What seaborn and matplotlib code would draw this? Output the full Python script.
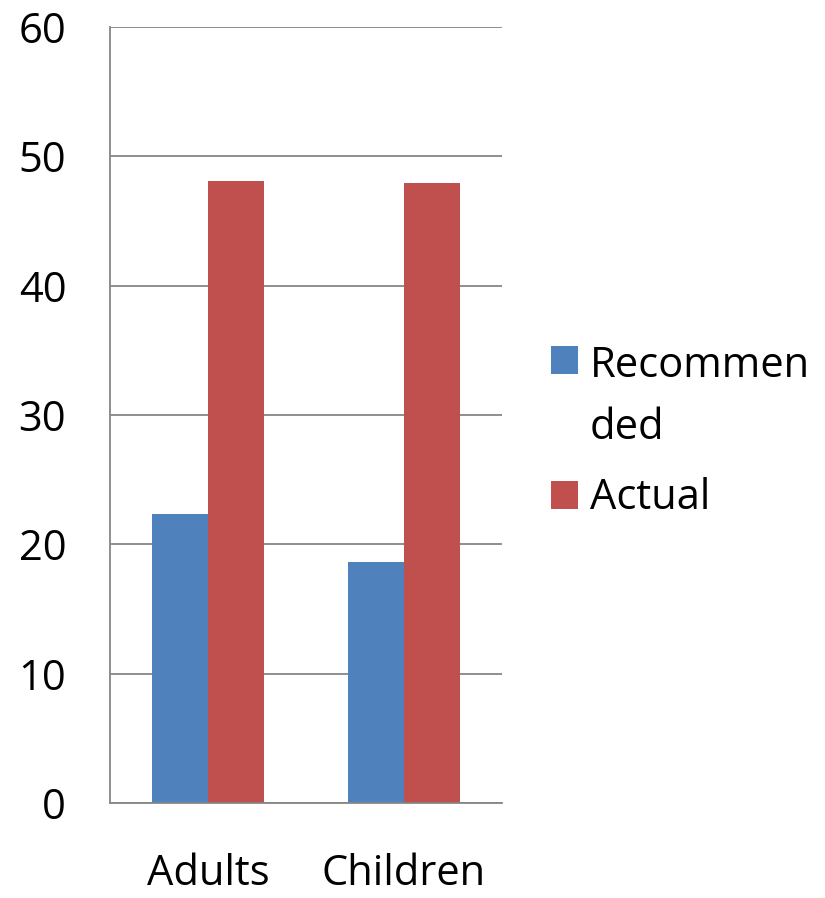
import matplotlib
matplotlib.use("Agg")
import matplotlib.pyplot as plt
import pandas as pd
import seaborn as sns

# valores
groups = ["Adults", "Children"]
series = ["Recommen\nded", "Actual"]
recommended = [22.35, 18.63]
actual = [48.09, 47.92]
colors = ["#4F81BD", "#C0504D"]

df = pd.DataFrame({
    "Group": groups * 2,
    "Series": [series[0]] * 2 + [series[1]] * 2,
    "Value": recommended + actual,
})

sns.set_style("white")
plt.rcParams["font.family"] = ["Open Sans", "DejaVu Sans"]
plt.rcParams["text.color"] = "black"
plt.rcParams["xtick.labelcolor"] = "black"
plt.rcParams["ytick.labelcolor"] = "black"

fig = plt.figure(figsize=(8.25, 8.98), dpi=100)
ax = fig.add_axes([110 / 825, 95 / 898, 392 / 825, 776 / 898])

sns.barplot(data=df, x="Group", y="Value", hue="Series", palette=colors,
            width=0.57, saturation=1, ax=ax, edgecolor="none")

grid = "#868686"
ax.set_ylim(0, 60)
ax.set_xlim(-0.5, 1.5)
ax.set_yticks(range(0, 61, 10))
ax.yaxis.grid(True, color=grid, linewidth=1.3)
ax.set_axisbelow(True)
ax.set_xlabel("")
ax.set_ylabel("")

for side in ["top", "right"]:
    ax.spines[side].set_visible(False)
for side in ["left", "bottom"]:
    ax.spines[side].set_color(grid)
    ax.spines[side].set_linewidth(1.3)

ax.tick_params(axis="y", length=9.5, width=1.3, color=grid, pad=22, labelsize=30)
ax.tick_params(axis="x", which="major", length=0, pad=36, labelsize=30)
ax.set_xticks([-0.5, 0.5, 1.5], minor=True)
ax.tick_params(axis="x", which="minor", length=11, width=1.3, color=grid)

leg = ax.legend(loc="upper left", bbox_to_anchor=(551 / 825, 1 - 345 / 898),
                bbox_transform=fig.transFigure, frameon=False, fontsize=30,
                handlelength=0.65, handleheight=0.65, handletextpad=0.28,
                labelspacing=0.69, borderaxespad=0, borderpad=0)
leg.get_texts()[0].set_linespacing(1.61)
# poner el cuadrado a la altura de la primera línea
h0 = leg.legend_handles[0]
h0.set_y(h0.get_y() + 27.4)

fig.savefig("out.png", dpi=100)
